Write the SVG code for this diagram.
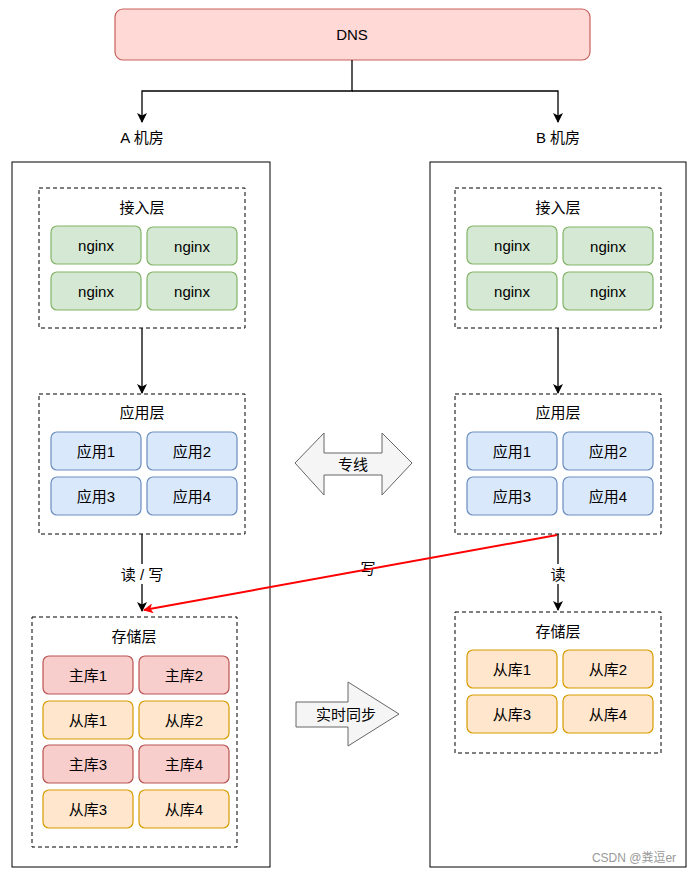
<svg xmlns="http://www.w3.org/2000/svg" width="696" height="875" viewBox="0 0 696 875">
<defs>
<marker id="ab" viewBox="0 0 10 10" refX="9" refY="5" markerWidth="10" markerHeight="10" markerUnits="userSpaceOnUse" orient="auto"><path d="M0,0 L10,5 L0,10 L2.5,5 Z" fill="#000"/></marker>
<marker id="ar" viewBox="0 0 10 10" refX="9" refY="5" markerWidth="10" markerHeight="10" markerUnits="userSpaceOnUse" orient="auto"><path d="M0,0 L10,5 L0,10 L2.5,5 Z" fill="#ff0000"/></marker>
</defs>
<style>
text{font-family:"Liberation Sans","Noto Sans CJK SC",sans-serif;font-size:15px;fill:#000;text-anchor:middle;dominant-baseline:central}
.room{fill:#fff;stroke:#000;stroke-width:1}
.layer{fill:#fff;stroke:#000;stroke-width:1;stroke-dasharray:4,3}
.g{fill:#d5e8d4;stroke:#82b366;stroke-width:1.2}
.b{fill:#dae8fc;stroke:#6c8ebf;stroke-width:1.2}
.r{fill:#f8cecc;stroke:#b85450;stroke-width:1.2}
.o{fill:#ffe6cc;stroke:#d79b00;stroke-width:1.2}
.cn{fill:none;stroke:#000;stroke-width:1.3}
.lbl{fill:#fff}
</style>
<rect width="696" height="875" fill="#fff"/>
<g id="dns"><rect x="115" y="9" width="475" height="51" rx="8" fill="#ffd9d6" stroke="#c9605b" stroke-width="1.2"/><text x="352" y="34">DNS</text></g>
<g id="roomA"><rect class="room" x="12" y="162" width="258" height="705"/><text x="142" y="137">A 机房</text></g>
<g id="roomB"><rect class="room" x="430" y="162" width="256" height="705"/><text x="558" y="137">B 机房</text></g>
<g id="accessA"><rect class="layer" x="39" y="188" width="206" height="140"/><text x="142" y="207">接入层</text>
<rect class="g" x="51" y="226" width="90" height="38" rx="6"/><text x="96" y="245">nginx</text>
<rect class="g" x="147" y="227" width="90" height="38" rx="6"/><text x="192" y="246">nginx</text>
<rect class="g" x="51" y="272" width="90" height="38" rx="6"/><text x="96" y="291">nginx</text>
<rect class="g" x="147" y="272" width="90" height="38" rx="6"/><text x="192" y="291">nginx</text></g>
<g id="accessB"><rect class="layer" x="455" y="188" width="206" height="140"/><text x="558" y="207">接入层</text>
<rect class="g" x="467" y="226" width="90" height="38" rx="6"/><text x="512" y="245">nginx</text>
<rect class="g" x="563" y="227" width="90" height="38" rx="6"/><text x="608" y="246">nginx</text>
<rect class="g" x="467" y="272" width="90" height="38" rx="6"/><text x="512" y="291">nginx</text>
<rect class="g" x="563" y="272" width="90" height="38" rx="6"/><text x="608" y="291">nginx</text></g>
<g id="appA"><rect class="layer" x="39" y="394" width="206" height="140"/><text x="142" y="412">应用层</text>
<rect class="b" x="51" y="432" width="90" height="38" rx="6"/><text x="96" y="451">应用1</text>
<rect class="b" x="147" y="432" width="90" height="38" rx="6"/><text x="192" y="451">应用2</text>
<rect class="b" x="51" y="477" width="90" height="38" rx="6"/><text x="96" y="496">应用3</text>
<rect class="b" x="147" y="477" width="90" height="38" rx="6"/><text x="192" y="496">应用4</text></g>
<g id="appB"><rect class="layer" x="455" y="394" width="206" height="140"/><text x="558" y="412">应用层</text>
<rect class="b" x="467" y="432" width="90" height="38" rx="6"/><text x="512" y="451">应用1</text>
<rect class="b" x="563" y="432" width="90" height="38" rx="6"/><text x="608" y="451">应用2</text>
<rect class="b" x="467" y="477" width="90" height="38" rx="6"/><text x="512" y="496">应用3</text>
<rect class="b" x="563" y="477" width="90" height="38" rx="6"/><text x="608" y="496">应用4</text></g>
<g id="storeA"><rect class="layer" x="32" y="617" width="205" height="230"/><text x="134" y="636">存储层</text>
<rect class="r" x="43" y="656" width="90" height="38" rx="6"/><text x="88" y="675">主库1</text>
<rect class="r" x="139" y="656" width="90" height="38" rx="6"/><text x="184" y="675">主库2</text>
<rect class="o" x="43" y="701" width="90" height="38" rx="6"/><text x="88" y="720">从库1</text>
<rect class="o" x="139" y="701" width="90" height="38" rx="6"/><text x="184" y="720">从库2</text>
<rect class="r" x="43" y="745" width="90" height="38" rx="6"/><text x="88" y="764">主库3</text>
<rect class="r" x="139" y="745" width="90" height="38" rx="6"/><text x="184" y="764">主库4</text>
<rect class="o" x="43" y="790" width="90" height="38" rx="6"/><text x="88" y="809">从库3</text>
<rect class="o" x="139" y="790" width="90" height="38" rx="6"/><text x="184" y="809">从库4</text></g>
<g id="storeB"><rect class="layer" x="455" y="612" width="206" height="141"/><text x="558" y="631">存储层</text>
<rect class="o" x="467" y="650" width="90" height="38" rx="6"/><text x="512" y="669">从库1</text>
<rect class="o" x="563" y="650" width="90" height="38" rx="6"/><text x="608" y="669">从库2</text>
<rect class="o" x="467" y="695" width="90" height="38" rx="6"/><text x="512" y="714">从库3</text>
<rect class="o" x="563" y="695" width="90" height="38" rx="6"/><text x="608" y="714">从库4</text></g>
<g id="zhuanxian"><path d="M295,463 L324,433 L324,453 L382,453 L382,433 L412,463 L382,495 L382,475 L324,475 L324,495 Z" fill="#f5f5f5" stroke="#666"/><text x="353" y="464">专线</text></g>
<g id="sync"><path d="M296,702 L348,702 L348,682 L399,714 L348,746 L348,727 L296,727 Z" fill="#f5f5f5" stroke="#666"/><text x="346" y="714">实时同步</text></g>
<g id="connectors">
<path class="cn" d="M352,60 L352,91 L142,91 L142,122" marker-end="url(#ab)"/>
<path class="cn" d="M352,91 L558,91 L558,122" marker-end="url(#ab)"/>
<path class="cn" d="M142,328 L142,393" marker-end="url(#ab)"/>
<path class="cn" d="M558,328 L558,393" marker-end="url(#ab)"/>
<path class="cn" d="M142,534 L142,611" marker-end="url(#ab)"/>
<rect class="lbl" x="114" y="564" width="56" height="20"/><text x="142" y="574">读 / 写</text>
<path class="cn" d="M558,534 L558,610" marker-end="url(#ab)"/>
<rect class="lbl" x="548" y="564" width="20" height="20"/><text x="558" y="574">读</text>
<text x="368" y="568">写</text>
<path d="M557,535 L144,610" fill="none" stroke="#ff0000" stroke-width="2" marker-end="url(#ar)"/>
</g>
<text x="634" y="858" style="font-size:12px;fill:#999">CSDN @粪逗er</text>
</svg>
